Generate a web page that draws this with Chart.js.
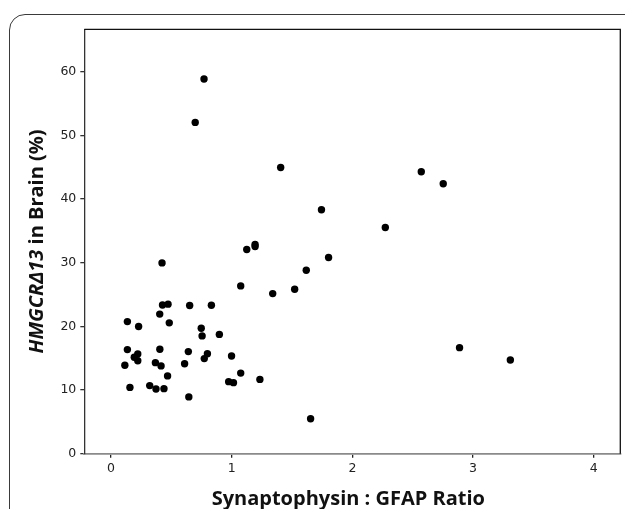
<!DOCTYPE html>
<html>
<head>
<meta charset="utf-8">
<script src="https://cdn.jsdelivr.net/npm/chart.js@4/dist/chart.umd.min.js"></script>
<style>
  html, body { margin: 0; padding: 0; background: #fff; overflow: hidden; }
  #wrap { position: relative; width: 625px; height: 509px; }
  #frame {
    position: absolute; left: 9px; top: 14px; width: 700px; height: 600px;
    border: 1.5px solid #3a3a3a; border-radius: 16px; box-sizing: border-box;
  }
  #chart { position: absolute; left: 0; top: 0; }
</style>
</head>
<body>
<div id="wrap">
  <div id="frame"></div>
  <canvas id="chart" width="625" height="509"></canvas>
</div>
<script>
// Data
const ratioValues = [
  0.771, 0.698, 1.406, 2.571, 2.753, 1.744, 2.273, 1.194, 1.194, 1.125,
  1.803, 0.423, 1.618, 1.075, 1.522, 1.340, 0.427, 0.473, 0.652, 0.832,
  0.404, 0.136, 0.483, 0.229, 0.748, 0.898, 0.755, 2.888, 0.136, 0.405,
  0.641, 0.222, 0.799, 0.999, 0.193, 0.773, 0.222, 3.309, 0.368, 0.115,
  0.415, 0.610, 1.075, 0.469, 1.234, 0.975, 1.015, 0.321, 0.157, 0.373,
  0.439, 0.645, 1.654
];
const hmgcrValues = [
  58.85, 52.04, 44.96, 44.28, 42.39, 38.31, 35.53, 32.86, 32.54, 32.07,
  30.81, 29.97, 28.82, 26.36, 25.83, 25.15, 23.35, 23.49, 23.27, 23.32,
  21.93, 20.75, 20.55, 19.97, 19.70, 18.74, 18.50, 16.66, 16.35, 16.40,
  16.04, 15.65, 15.70, 15.35, 15.15, 14.94, 14.60, 14.72, 14.30, 13.90,
  13.79, 14.13, 12.66, 12.22, 11.67, 11.32, 11.16, 10.70, 10.41, 10.17,
  10.22, 8.92, 5.50
];
const xTickValues = [0, 1, 2, 3, 4];
const yTickValues = [0, 10, 20, 30, 40, 50, 60];
const xTitle = 'Synaptophysin : GFAP Ratio';
const yTitleItalic = 'HMGCR\u039413';
const yTitleRest = ' in Brain (%)';

const points = ratioValues.map((x, i) => ({ x: x, y: hmgcrValues[i] }));

const titleFont = 'bold 20px "Open Sans"';
const titleItalicFont = 'italic bold 20px "Open Sans"';

// Box, axis titles
const decorPlugin = {
  id: 'decor',
  afterDraw(chart) {
    const ctx = chart.ctx;
    const a = chart.chartArea;
    ctx.save();
    // top + right border of the plot box
    ctx.strokeStyle = '#111';
    ctx.lineWidth = 1.3;
    ctx.beginPath();
    ctx.moveTo(a.left, a.top);
    ctx.lineTo(a.right, a.top);
    ctx.lineTo(a.right, a.bottom);
    ctx.stroke();

    // x title
    ctx.fillStyle = '#111';
    ctx.font = titleFont;
    ctx.textAlign = 'center';
    ctx.textBaseline = 'alphabetic';
    ctx.fillText(xTitle, (a.left + a.right) / 2 - 4, 505);

    // y title, rotated, mixed italic
    ctx.translate(43, (a.top + a.bottom) / 2);
    ctx.rotate(-Math.PI / 2);
    ctx.font = titleItalicFont;
    const w1 = ctx.measureText(yTitleItalic).width;
    ctx.font = titleFont;
    const w2 = ctx.measureText(yTitleRest).width;
    const start = -(w1 + w2) / 2;
    ctx.textAlign = 'left';
    ctx.font = titleItalicFont;
    ctx.fillText(yTitleItalic, start, 0);
    ctx.font = titleFont;
    ctx.fillText(yTitleRest, start + w1, 0);
    ctx.restore();
  }
};

const tickFont = { family: '"DejaVu Sans"', size: 12.5 };

new Chart(document.getElementById('chart'), {
  type: 'scatter',
  data: {
    datasets: [{
      data: points,
      backgroundColor: '#000',
      borderWidth: 0,
      pointRadius: 3.7,
      pointHoverRadius: 3.7
    }]
  },
  options: {
    responsive: false,
    animation: false,
    layout: { padding: { top: 29.3, right: 4.7, left: 0, bottom: 0 } },
    plugins: { legend: { display: false }, tooltip: { enabled: false } },
    scales: {
      x: {
        type: 'linear',
        min: -0.221,
        max: 4.22,
        afterFit: function(scale) { scale.height = 55.3; },
        afterBuildTicks: function(scale) { scale.ticks = xTickValues.map(v => ({ value: v })); },
        border: { color: '#8a8a8a', width: 1.8 },
        grid: { drawOnChartArea: false, drawTicks: true, tickLength: 4, color: '#222', lineWidth: 1.3 },
        ticks: { font: tickFont, color: '#222', padding: 4, maxRotation: 0 }
      },
      y: {
        min: 0,
        max: 66.66,
        afterFit: function(scale) { scale.width = 84.3; },
        afterBuildTicks: function(scale) { scale.ticks = yTickValues.map(v => ({ value: v })); },
        border: { color: '#333', width: 1.3 },
        grid: { drawOnChartArea: false, drawTicks: true, tickLength: 4, color: '#333', lineWidth: 1.3 },
        ticks: { font: tickFont, color: '#222', padding: 4 }
      }
    }
  },
  plugins: [decorPlugin]
});
</script>
</body>
</html>
